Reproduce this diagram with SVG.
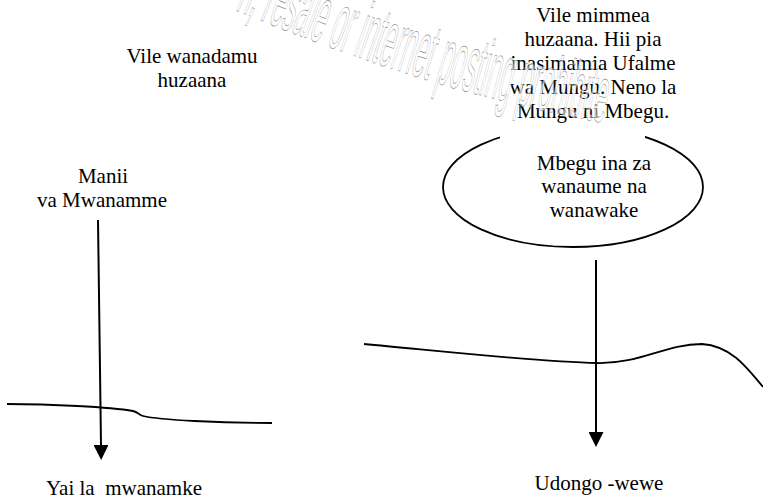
<svg xmlns="http://www.w3.org/2000/svg" width="763" height="499" viewBox="0 0 763 499">
<style>
.t{font-family:'Liberation Serif','DejaVu Serif',serif;font-size:21px;fill:#000;text-anchor:middle}
.ln{fill:none;stroke:#000;stroke-width:1.8}
.ar{fill:none;stroke:#000;stroke-width:2}
.wm{font-family:'Liberation Sans',Arial,sans-serif;font-size:80px;fill:#fff;fill-opacity:0.6;stroke:#8a8a8a;stroke-width:0.7}
</style>
<defs>
<marker id="ah" markerUnits="userSpaceOnUse" markerWidth="15" markerHeight="15" viewBox="0 0 15 15" refX="0" refY="7.5" orient="auto">
<path d="M0,0 L15,7.5 L0,15 z" fill="#000"/>
</marker>
<path id="wmp" d="M 235,10 C 330,48 440,92 600,122"/>
</defs>
<rect width="763" height="499" fill="#fff"/>
<g id="ground-left"><path class="ln" d="M7,404 C 50,404 110,407 133,411 C 138,412 139,415 143,416 C 160,420 220,423 272,423"/></g>
<g id="ground-right"><path class="ln" d="M364,344 C 450,352 540,362 597,363 C 640,364 665,344 702,344 C 730,346 745,365 763,387"/></g>
<g id="seed-ellipse">
<ellipse cx="573" cy="187" rx="130" ry="60" fill="#fff" stroke="#000" stroke-width="1.8"/>
<rect x="500" y="118" width="145" height="23" fill="#fff"/>
<text class="t" x="594" y="170">Mbegu ina za</text>
<text class="t" x="594" y="193">wanaume na</text>
<text class="t" x="594" y="217">wanawake</text>
</g>
<g id="humans-text">
<text class="t" x="192" y="63">Vile wanadamu</text>
<text class="t" x="192" y="87">huzaana</text>
</g>
<g id="plants-text">
<text class="t" x="593" y="22">Vile mimmea</text>
<text class="t" x="593" y="46">huzaana. Hii pia</text>
<text class="t" x="593" y="70">inasimamia Ufalme</text>
<text class="t" x="593" y="94">wa Mungu. Neno la</text>
<text class="t" x="593" y="118">Mungu ni Mbegu.</text>
</g>
<g id="watermark"><text class="wm"><textPath href="#wmp" textLength="400" lengthAdjust="spacingAndGlyphs">n, resale or internet posting prohibited</textPath></text></g>
<g id="sperm">
<text class="t" x="103" y="183">Manii</text>
<text class="t" x="102" y="207">va Mwanamme</text>
</g>
<g id="egg"><text class="t" x="124" y="495" xml:space="preserve">Yai la  mwanamke</text></g>
<g id="soil"><text class="t" x="599" y="490">Udongo -wewe</text></g>
<g id="connectors">
<line class="ar" x1="98" y1="220" x2="101" y2="445" marker-end="url(#ah)"/>
<line class="ar" x1="596" y1="260" x2="596" y2="432" marker-end="url(#ah)"/>
</g>
</svg>
